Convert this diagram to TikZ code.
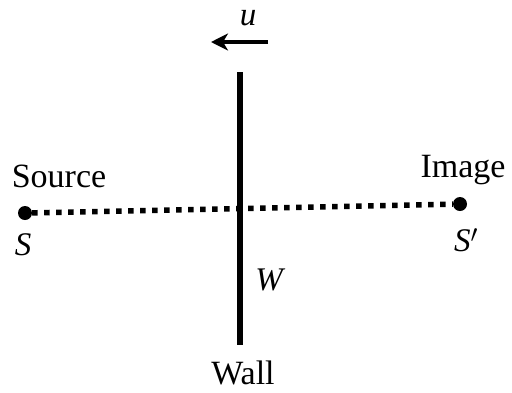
\documentclass[tikz,border=0pt]{standalone}
\usepackage{fontspec}
\setmainfont{Liberation Serif}
\usetikzlibrary{arrows.meta}
\begin{document}
\begin{tikzpicture}[x=1pt,y=-1pt,
  lbl/.style={inner sep=0pt,font=\fontsize{34}{40}\selectfont},
  ilbl/.style={inner sep=0pt,font=\fontsize{33}{40}\selectfont\itshape},
  dotpt/.style={circle,fill=black,inner sep=0pt,minimum size=14pt}]
\useasboundingbox[fill=white] (0,0) rectangle (512,392);
% wall
\coordinate (wt) at (240,72);
\coordinate (wb) at (240,345);
\draw[line width=6pt] (wt) -- (wb);
% velocity arrow
\coordinate (ua) at (268,42);
\coordinate (ub) at (211,42);
\draw[line width=3.5pt,-{Stealth[length=17pt,width=17pt,inset=5pt]}] (ua) -- (ub);
\node[ilbl] (u) at (248,18) {u};
% source & image
\node[dotpt] (S) at (25,213) {};
\node[dotpt] (Sp) at (460,204) {};
\draw[line width=5.5pt,dash pattern=on 5.5pt off 6.5pt] (S) -- (Sp);
% labels
\node[lbl,anchor=base] (src) at (59,187) {Source};
\node[ilbl] (sl) at (23,245) {S};
\node[lbl,anchor=base] (img) at (463,177) {Image};
\node[ilbl] (spl) at (466,240) {S$'$};
\node[ilbl] (wl) at (269,280) {W};
\node[lbl,anchor=base] (wall) at (243,384) {Wall};
\end{tikzpicture}
\end{document}
